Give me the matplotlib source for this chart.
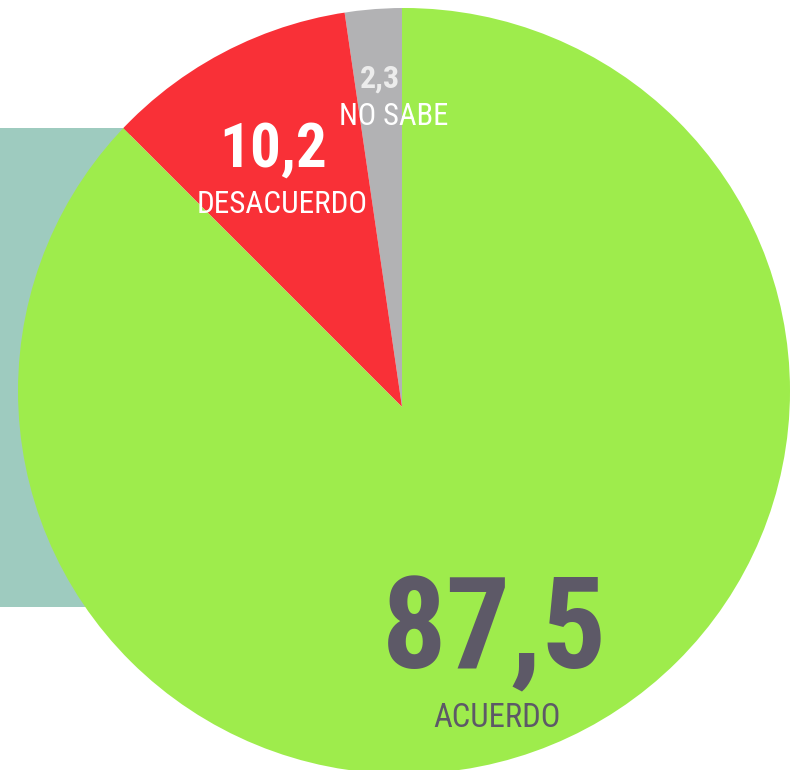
import matplotlib
matplotlib.use("Agg")
import matplotlib.pyplot as plt
from matplotlib.patches import Rectangle, Ellipse

# Data
categories = ["NO SABE", "DESACUERDO", "ACUERDO"]
values = [2.3, 10.2, 87.5]
value_labels = ["2,3", "10,2", "87,5"]
colors = ["#b2b2b4", "#f93037", "#9eec4c"]

W, H = 798, 770
fig = plt.figure(figsize=(W / 100, H / 100), dpi=100)
fig.patch.set_facecolor("white")

ax = fig.add_axes([0, 0, 1, 1])
ax.set_xlim(0, W)
ax.set_ylim(0, H)


def py(y):
    return H - y


# teal block behind the pie
ax.add_patch(Rectangle((0, py(607)), 130, 607 - 128, facecolor="#9ecbbf",
                       edgecolor="none", zorder=0))

wedges, _ = ax.pie(values, colors=colors, startangle=90, counterclock=True,
                   center=(402, py(407)), radius=440, frame=True,
                   wedgeprops=dict(linewidth=0, zorder=2))
outline = Ellipse((404, py(391)), 772, 766, facecolor="none", edgecolor="none")
ax.add_patch(outline)
for w in wedges:
    w.set_clip_on(True)
    w.set_clip_path(outline)
ax.set_aspect("auto")
ax.set_xlim(0, W)
ax.set_ylim(0, H)
ax.axis("off")

fam = ["Roboto Condensed", "Roboto", "DejaVu Sans"]
dark = "#5d5967"

fig.text(494 / W, 1 - 668 / H, value_labels[2], family=fam, fontweight="bold",
         fontsize=92, color=dark, ha="center", va="baseline")
fig.text(497 / W, 1 - 727 / H, categories[2], family=fam,
         fontsize=23.5, color=dark, ha="center", va="baseline")
fig.text(273 / W, 1 - 167 / H, value_labels[1], family=fam, fontweight="bold",
         fontsize=44, color="white", ha="center", va="baseline")
fig.text(282 / W, 1 - 213 / H, categories[1], family=fam,
         fontsize=22.5, color="white", ha="center", va="baseline")
fig.text(380 / W, 1 - 88 / H, value_labels[0], family=fam, fontweight="bold",
         fontsize=23, color="#ececec", ha="center", va="baseline")
fig.text(394 / W, 1 - 125 / H, categories[0], family=fam,
         fontsize=22, color="white", ha="center", va="baseline")

fig.savefig("out.png", dpi=100)
